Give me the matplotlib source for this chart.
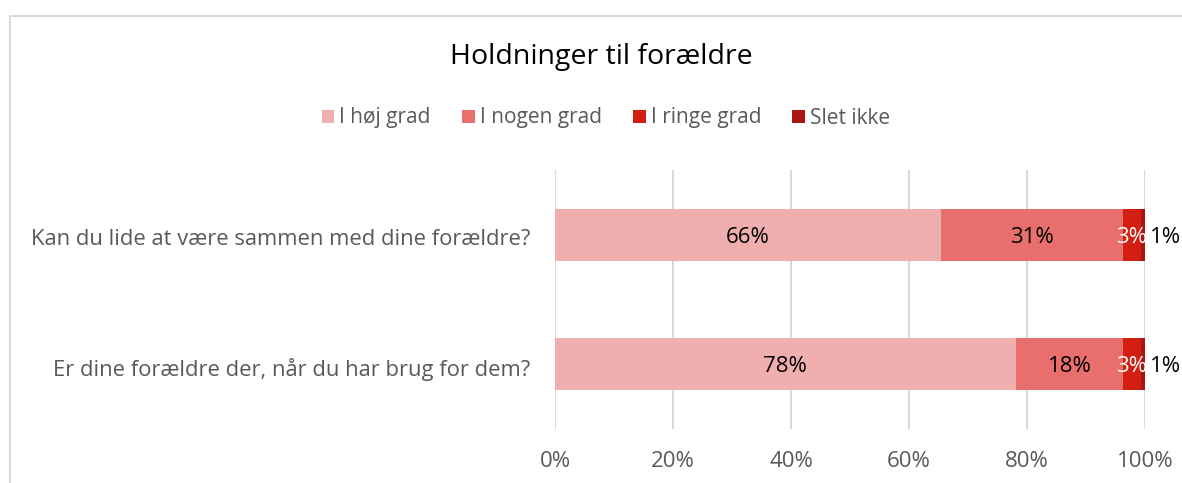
import matplotlib
matplotlib.use("Agg")
import matplotlib.pyplot as plt
from matplotlib.patches import Rectangle
import numpy as np

categories = ["Kan du lide at være sammen med dine forældre?",
              "Er dine forældre der, når du har brug for dem?"]
series_names = ["I høj grad", "I nogen grad", "I ringe grad", "Slet ikke"]
hoej = [65.4, 78.1]
nogen = [30.8, 18.2]
ringe = [3.1, 3.0]
slet = [0.7, 0.7]
value_labels = [["66%", "31%", "3%", "1%"], ["78%", "18%", "3%", "1%"]]
xticks = [0, 20, 40, 60, 80, 100]
xtick_labels = ["0%", "20%", "40%", "60%", "80%", "100%"]

colors = ["#EFAFAF", "#E86F6C", "#D21F12", "#A91710"]
label_colors = ["#000000", "#000000", "#FFFFFF", "#000000"]

plt.rcParams['font.family'] = ['Open Sans', 'DejaVu Sans']
W, H = 1182, 483
fig = plt.figure(figsize=(W / 100, H / 100), dpi=100)

# chart frame
fig.patches.append(Rectangle((10 / W, -0.1), 1.2, (H - 16) / H + 0.1,
                             transform=fig.transFigure, fill=False,
                             edgecolor="#D9D9D9", linewidth=1.5))

ax = fig.add_axes([555 / W, 1 - 429 / H, 590 / W, (429 - 170) / H])
ypos = np.array([1, 0])
data = [hoej, nogen, ringe, slet]
left = np.zeros(2)
for i, (name, vals) in enumerate(zip(series_names, data)):
    vals = np.array(vals)
    ax.barh(ypos, vals, left=left, height=0.4, color=colors[i], label=name,
            zorder=3)
    for j in range(2):
        if i == 3:
            ax.text(left[j] + vals[j] + 0.9, ypos[j] - 0.02, value_labels[j][i],
                    ha="left", va="center", fontsize=16, color=label_colors[i],
                    zorder=4, clip_on=False)
        else:
            ax.text(left[j] + vals[j] / 2, ypos[j] - 0.02, value_labels[j][i],
                    ha="center", va="center", fontsize=16,
                    color=label_colors[i], zorder=4)
    left = left + vals

ax.set_xlim(0, 100)
ax.set_ylim(-0.5, 1.5)
ax.set_xticks(xticks)
ax.set_xticklabels(xtick_labels, fontsize=16, color="#595959")
ax.set_yticks(ypos - 0.02)
ax.set_yticklabels(categories, fontsize=15.8, color="#595959")
ax.tick_params(axis="both", length=0)
ax.tick_params(axis="x", pad=16)
ax.tick_params(axis="y", pad=18)
ax.grid(axis="x", color="#D9D9D9", linewidth=1.5, zorder=0)
for s in ax.spines.values():
    s.set_visible(False)

fig.text(601 / W, 1 - 57 / H, "Holdninger til forældre", ha="center",
         va="center", fontsize=20.5, color="#000000")
handles, labels = ax.get_legend_handles_labels()
fig.legend(handles, labels, loc="center", bbox_to_anchor=(606 / W, 1 - 118 / H),
           ncol=4, frameon=False, fontsize=15, labelcolor="#595959",
           handlelength=0.6, handleheight=0.6, handletextpad=0.25,
           columnspacing=1.5)

fig.savefig("out.png", dpi=100)
